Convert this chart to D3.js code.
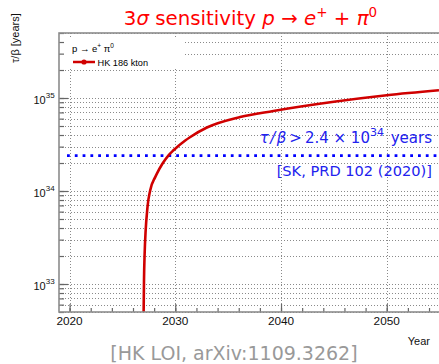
<!DOCTYPE html>
<html><head><meta charset="utf-8">
<script src="https://cdn.jsdelivr.net/npm/d3@7"></script>
<style>
body{margin:0;background:#fff;}
svg{display:block;}
</style></head>
<body>
<svg id="c" width="439" height="364"></svg>
<script>
// ---- data ----
const years = [2027.0, 2027.04, 2027.09, 2027.37, 2027.63, 2028.10, 2028.26, 2029.36, 2029.83, 2030.94, 2031.42, 2032.99, 2036.13, 2039.28, 2045.0, 2050.0, 2054.94];
const hkSensitivity = [4.5e32, 1.1e33, 1.95e33, 6.7e33, 1.02e34, 1.41e34, 1.54e34, 2.42e34, 2.74e34, 3.49e34, 3.81e34, 4.82e34, 6.25e34, 7.25e34, 9.1e34, 1.07e35, 1.21e35];
const xMajorTicks = [2020, 2030, 2040, 2050];
const xMinorTicks = [2020,2022,2024,2026,2028,2030,2032,2034,2036,2038,2040,2042,2044,2046,2048,2050,2052,2054];
const yMajorExponents = [33, 34, 35];
const skLimit = 2.4e34;
const legendLabel = "HK 186 kton";
const xLabel = "Year";
const yLabel = "τ/β [years]";

// ---- layout ----
const svg = d3.select("#c");
const L = 59, R = 439.6, T = 33, B = 312;
const x = d3.scaleLinear().domain([2019, 2055]).range([L, R]);
const y = d3.scaleLog().domain([5e32, 5e35]).range([B, T]);

const sans = "'Liberation Sans', Arial, Helvetica, sans-serif";
const tex = "'DejaVu Sans', sans-serif";

const yMinor = [];
for (let e = 32; e <= 35; e++) for (let m = 1; m <= 9; m++) {
  const v = m * Math.pow(10, e);
  if (v >= 5e32 && v <= 5e35) yMinor.push(v);
}

svg.append("defs").append("clipPath").attr("id","clip")
  .append("rect").attr("x", L).attr("y", T).attr("width", R - L).attr("height", B - T);

// grid
const grid = svg.append("g").attr("stroke", "#8a8a8a").attr("stroke-width", 1).attr("stroke-dasharray", "1,2").attr("fill","none");
grid.selectAll("line.h").data(yMinor).join("line")
  .attr("x1", L).attr("x2", R).attr("y1", d => Math.round(y(d)) + 0.5).attr("y2", d => Math.round(y(d)) + 0.5);
grid.selectAll("line.v").data(xMajorTicks).join("line")
  .attr("y1", T).attr("y2", B).attr("x1", d => Math.round(x(d)) + 0.5).attr("x2", d => Math.round(x(d)) + 0.5);

// legend box (covers grid)
const lg = svg.append("g");
lg.append("rect").attr("x", L + 1).attr("y", 37).attr("width", 125).attr("height", 31).attr("fill", "#fff");
const lt = lg.append("text").attr("x", 72).attr("y", 52).attr("font-family", sans).attr("font-size", 9.5).attr("fill", "#000");
lt.append("tspan").text("p → e");
lt.append("tspan").attr("font-size", 6.5).attr("dy", -4).text("+");
lt.append("tspan").attr("dy", 4).text(" π");
lt.append("tspan").attr("font-size", 6.5).attr("dy", -4).text("0");
lg.append("line").attr("x1", 73).attr("x2", 95).attr("y1", 62).attr("y2", 62).attr("stroke", "#d00000").attr("stroke-width", 2.5);
lg.append("circle").attr("cx", 84).attr("cy", 62).attr("r", 2.6).attr("fill", "#d00000");
lg.append("text").attr("x", 97.5).attr("y", 65.5).attr("font-family", sans).attr("font-size", 9.2).attr("fill", "#000").text(legendLabel);

// SK limit line
svg.append("line").attr("x1", L + 8).attr("x2", R).attr("y1", y(skLimit)).attr("y2", y(skLimit))
  .attr("stroke", "#0000ff").attr("stroke-width", 2.8).attr("stroke-dasharray", "2.8,5");

// curve
const line = d3.line().x((d, i) => x(years[i])).y(d => y(d)).curve(d3.curveMonotoneX);
svg.append("path").attr("clip-path", "url(#clip)").datum(hkSensitivity)
  .attr("d", line).attr("fill", "none").attr("stroke", "#d00000").attr("stroke-width", 2.6);

// axes (ticks inward)
const axCol = "#8c8c8c";
const gyMinor = svg.append("g").attr("transform", `translate(${L},0)`)
  .call(d3.axisLeft(y).tickValues(yMinor).tickSize(-5).tickFormat(""));
const gyMajor = svg.append("g").attr("transform", `translate(${L},0)`)
  .call(d3.axisLeft(y).tickValues(yMajorExponents.map(e => Math.pow(10, e))).tickSize(-9).tickFormat(""));
const gxMinor = svg.append("g").attr("transform", `translate(0,${B})`)
  .call(d3.axisBottom(x).tickValues(xMinorTicks).tickSize(-4).tickFormat(""));
const gxMajor = svg.append("g").attr("transform", `translate(0,${B})`)
  .call(d3.axisBottom(x).tickValues(xMajorTicks).tickSize(-8).tickFormat(""));
[gyMinor, gyMajor, gxMinor, gxMajor].forEach(g => {
  g.selectAll("line").attr("stroke", "#666").attr("stroke-width", 1.2);
  g.select(".domain").remove();
});
// frame
svg.append("rect").attr("x", L).attr("y", T).attr("width", R - L + 5).attr("height", B - T)
  .attr("fill", "none").attr("stroke", axCol).attr("stroke-width", 1.6);

// x tick labels
svg.append("g").selectAll("text").data(xMajorTicks).join("text")
  .attr("x", d => x(d)).attr("y", 325).attr("text-anchor", "middle")
  .attr("font-family", sans).attr("font-size", 11.8).attr("fill", "#111").text(d => d);

// y tick labels with superscripts
const yl = svg.append("g").selectAll("text").data(yMajorExponents).join("text")
  .attr("x", 33.5).attr("y", d => y(Math.pow(10, d)) + 5.5).attr("text-anchor", "start")
  .attr("font-family", sans).attr("font-size", 11).attr("fill", "#111");
yl.append("tspan").text("10");
yl.append("tspan").attr("font-size", 8).attr("dy", -6).text(d => d);

// axis titles
svg.append("text").attr("x", 430).attr("y", 345).attr("text-anchor", "end")
  .attr("font-family", sans).attr("font-size", 11).attr("fill", "#111").text(xLabel);
svg.append("text").attr("transform", "translate(18.5,63) rotate(-90)").attr("text-anchor", "start")
  .attr("font-family", sans).attr("font-size", 11).attr("fill", "#111").text(yLabel);

// title
const tt = svg.append("text").attr("x", 250.5).attr("y", 25).attr("text-anchor", "middle")
  .attr("font-family", tex).attr("font-size", 19.8).attr("fill", "#ff0000");
tt.append("tspan").text("3");
tt.append("tspan").attr("font-style", "italic").text("σ");
tt.append("tspan").text(" sensitivity ");
tt.append("tspan").attr("font-style", "italic").text("p");
tt.append("tspan").text(" → ");
tt.append("tspan").attr("font-style", "italic").text("e");
tt.append("tspan").attr("font-size", 13.5).attr("dy", -8).text("+");
tt.append("tspan").attr("dy", 8).text(" + ");
tt.append("tspan").attr("font-style", "italic").text("π");
tt.append("tspan").attr("font-size", 13.5).attr("dy", -8).text("0");

// SK annotation
const blue = "#2222ee";
const st = svg.append("text").attr("x", 432).attr("y", 143).attr("text-anchor", "end")
  .attr("font-family", tex).attr("font-size", 15).attr("fill", blue);
st.append("tspan").attr("font-style", "italic").text("τ");
st.append("tspan").attr("dx", 1.5).attr("font-style", "italic").text("/");
st.append("tspan").attr("dx", 1.5).attr("font-style", "italic").text("β");
st.append("tspan").attr("dx", 3).text(">");
st.append("tspan").attr("dx", 3).text("2.4 × 10");
st.append("tspan").attr("font-size", 11).attr("dy", -7).text("34");
st.append("tspan").attr("dy", 7).attr("dx", 2).text(" years");
svg.append("text").attr("x", 432).attr("y", 176).attr("text-anchor", "end")
  .attr("font-family", tex).attr("font-size", 14.6).attr("fill", blue).text("[SK, PRD 102 (2020)]");

// reference
svg.append("text").attr("x", 234).attr("y", 360).attr("text-anchor", "middle")
  .attr("font-family", tex).attr("font-size", 19).attr("fill", "#999").text("[HK LOI, arXiv:1109.3262]");
</script>
</body></html>
